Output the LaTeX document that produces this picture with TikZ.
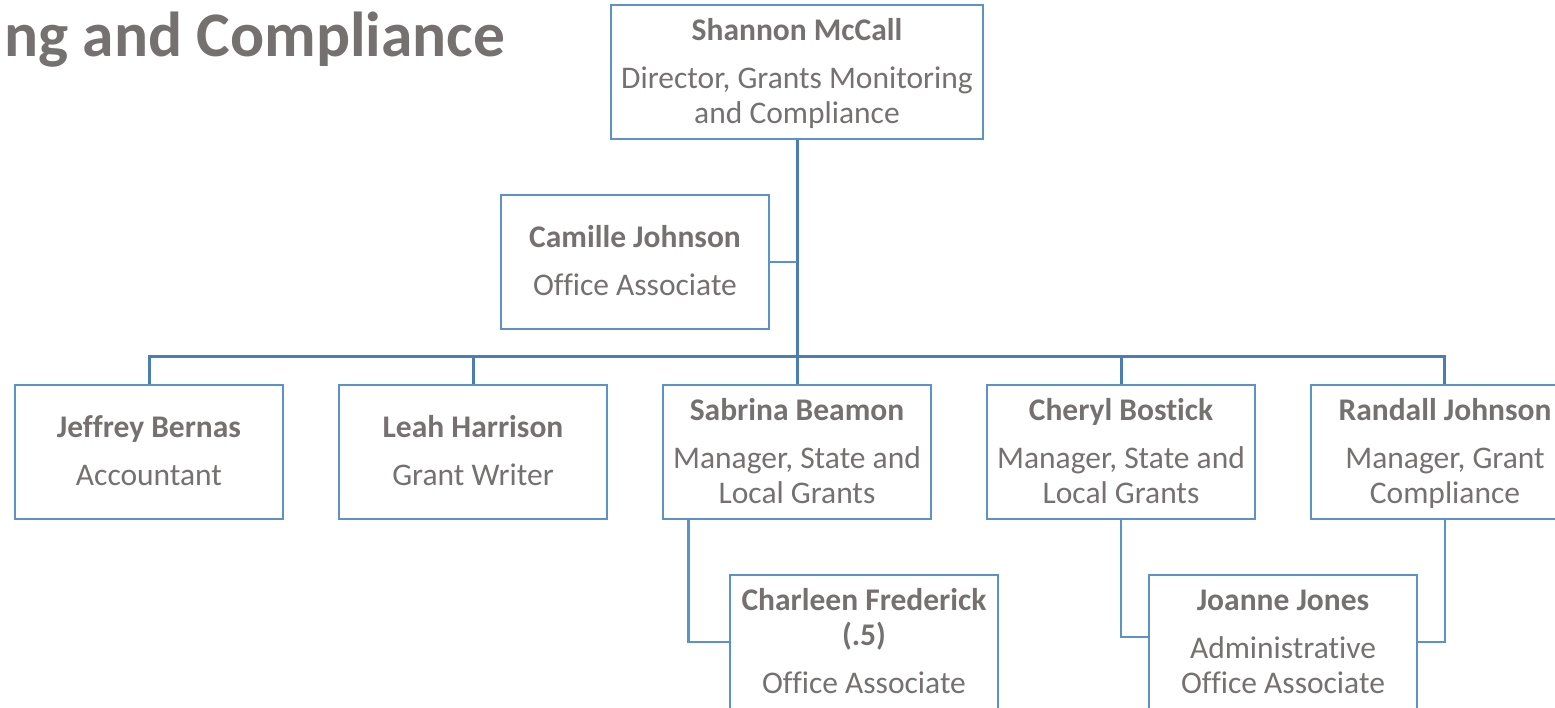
\documentclass[tikz,border=0pt]{standalone}
\usepackage{fontspec}
\setmainfont{Carlito}[Ligatures=NoCommon]
\definecolor{boxblue}{HTML}{5B93C9}
\definecolor{linkblue}{HTML}{4A7DB0}
\definecolor{txtgray}{HTML}{767171}
\tikzset{
  person/.style={draw=boxblue, line width=2.7pt, fill=white, minimum width=268pt,
    minimum height=134pt, inner sep=0pt, align=center, text=txtgray,
    font=\fontsize{31.5}{34.5}\selectfont},
  conn/.style={draw=linkblue, line width=3pt},
  conn2/.style={draw=boxblue, line width=2.7pt},
}
\newcommand\nm[1]{\textbf{\rule{0pt}{30pt}#1}}
\begin{document}
\begin{tikzpicture}[x=1pt,y=-1pt]
\useasboundingbox (0,0) rectangle (1555,708);
\clip (0,0) rectangle (1555,708);
\node[anchor=base west, text=txtgray, font=\fontsize{63.5}{70}\selectfont\bfseries, inner sep=0pt] (title) at (4,57) {ng and Compliance};
\coordinate (bus) at (797,357);
% connectors
\draw[conn] (797,139) coordinate (top) -- (797,385);
\draw[conn] (149,385) |- (bus) -| (1444,385);
\draw[conn] (473,357) -- (473,385);
\draw[conn] (1121,357) -- (1121,385);
% nodes
\node[person, minimum width=372pt] (shannon) at (797,72) {\nm{Shannon McCall}\\[13.5pt] Director, Grants Monitoring\\ and Compliance\strut};
\node[person] (camille) at (635,262) {\nm{Camille Johnson}\\[13.5pt] Office Associate\strut};
\node[person] (jeffrey) at (149,452) {\nm{Jeffrey Bernas}\\[13.5pt] Accountant\strut};
\node[person] (leah) at (473,452) {\nm{Leah Harrison}\\[13.5pt] Grant Writer\strut};
\node[person] (sabrina) at (797,452) {\nm{Sabrina Beamon}\\[13.5pt] Manager, State and\\ Local Grants\strut};
\node[person] (cheryl) at (1121,452) {\nm{Cheryl Bostick}\\[13.5pt] Manager, State and\\ Local Grants\strut};
\node[person] (randall) at (1445,452) {\nm{Randall Johnson}\\[13.5pt] Manager, Grant\\ Compliance\strut};
\node[person] (charleen) at (864,642) {\nm{Charleen Frederick}\\ \textbf{(.5)}\\[13.5pt] Office Associate\strut};
\node[person] (joanne) at (1283,642) {\nm{Joanne Jones}\\[13.5pt] Administrative\\ Office Associate\strut};
% secondary connectors
\draw[conn2] (camille.east) -- (camille.east -| shannon.south);
\draw[conn2] ([xshift=27pt]sabrina.south west) |- (charleen.west);
\draw[conn2] (cheryl.south) |- ([yshift=5pt]joanne.west);
\draw[conn2] (randall.south) |- (joanne.east);
\end{tikzpicture}
\end{document}
